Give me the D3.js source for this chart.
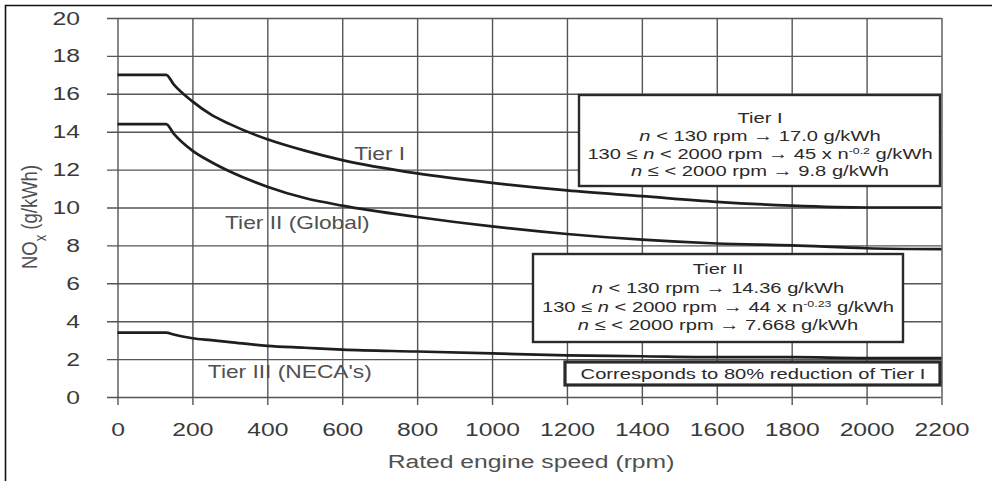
<!DOCTYPE html>
<html>
<head>
<meta charset="utf-8">
<script src="https://cdn.jsdelivr.net/npm/d3@7"></script>
<style>
    body { margin: 0; background: #fff; }
    svg { display: block; font-family: "Liberation Sans", Arial, Helvetica, sans-serif; }
    .grid line { stroke: #555; stroke-width: 1.4; }
    .grid text { fill: #3a3a3a; font-size: 19px; }
    .curve { fill: none; stroke: #1e1e1e; stroke-width: 2.7; }
    .label { fill: #505050; font-size: 17.5px; }
    .box rect { fill: #fff; stroke: #2a2a2a; }
    .box text { fill: #2a2a2a; font-size: 15.5px; }
</style>
</head>
<body>
<div class="chart"></div>
<script>
// values
var rpm = [0, 130, 150, 200, 250, 300, 400, 500, 600, 800, 1000, 1200, 1400, 1600, 1800, 2000, 2200];
var tier1 = [17.0, 17.0, 16.5, 15.6, 14.9, 14.4, 13.6, 13.0, 12.5, 11.8, 11.3, 10.9, 10.6, 10.3, 10.1, 10.0, 10.0];
var tier2 = [14.4, 14.4, 13.9, 13.0, 12.4, 11.9, 11.1, 10.5, 10.1, 9.5, 9.0, 8.6, 8.3, 8.1, 8.0, 7.85, 7.8];
var tier3 = [3.4, 3.4, 3.3, 3.1, 3.0, 2.9, 2.7, 2.6, 2.5, 2.4, 2.3, 2.2, 2.15, 2.1, 2.1, 2.05, 2.05];

var xTicks = [0, 200, 400, 600, 800, 1000, 1200, 1400, 1600, 1800, 2000, 2200];
var yTicks = [0, 2, 4, 6, 8, 10, 12, 14, 16, 18, 20];

var curveLabels = ["Tier I", "Tier II (Global)", "Tier III (NECA's)"];
var curveLabelAt = [[700, 12.8], [480, 9.2], [460, 1.3]];

var STRETCH = 1.3;   // the scan is wider than it is tall

var W = 992, H = 481;
var plot = { left: 117.5, right: 941.5, top: 18, bottom: 397 };

var svg = d3.select(".chart").append("svg")
    .attr("width", W)
    .attr("height", H);

svg.append("rect")
    .attr("width", W)
    .attr("height", H)
    .attr("fill", "#fff");

// frame of the scan (top and left edges only)
svg.append("path")
    .attr("d", "M5.5," + H + "V5.5H" + W)
    .attr("fill", "none")
    .attr("stroke", "#111")
    .attr("stroke-width", 1.6);

var x = d3.scaleLinear()
    .domain([0, 2200])
    .range([plot.left, plot.right]);

var y = d3.scaleLinear()
    .domain([0, 20])
    .range([plot.bottom, plot.top]);

// horizontal grid + y labels
var gy = svg.append("g")
    .attr("class", "grid")
    .attr("transform", "translate(107,0)")
    .call(d3.axisLeft(y)
        .tickValues(yTicks)
        .tickFormat(d3.format("d"))
        .tickSize(-(plot.right - 107))
        .tickPadding(27));
gy.select(".domain").remove();
gy.selectAll("text")
    .attr("x", -27 / STRETCH)
    .attr("transform", "scale(" + STRETCH + ",1)");

// vertical grid + x labels
var gx = svg.append("g")
    .attr("class", "grid")
    .attr("transform", "translate(0,405)")
    .call(d3.axisBottom(x)
        .tickValues(xTicks)
        .tickFormat(d3.format("d"))
        .tickSize(-(405 - plot.top))
        .tickPadding(18));
gx.select(".domain").remove();
gx.selectAll("text")
    .attr("transform", "scale(" + STRETCH + ",1)");

// curves
var line = d3.line()
    .x(function(d) { return x(d[0]); })
    .y(function(d) { return y(d[1]); })
    .curve(d3.curveMonotoneX);

[tier1, tier2, tier3].forEach(function(series, i) {
    svg.append("path")
        .datum(d3.zip(rpm, series))
        .attr("class", "curve")
        .attr("stroke-width", i === 1 ? 3 : 2.7)
        .attr("d", line);
});

svg.selectAll(".label")
    .data(curveLabels)
    .enter().append("text")
    .attr("class", "label")
    .attr("text-anchor", "middle")
    .attr("transform", function(d, i) {
        return "translate(" + x(curveLabelAt[i][0]) + "," + (y(curveLabelAt[i][1]) + 6) + ") scale(" + STRETCH + ",1)";
    })
    .text(function(d) { return d; });

// axis titles
svg.append("text")
    .attr("class", "label")
    .attr("text-anchor", "middle")
    .attr("transform", "translate(531,468) scale(" + STRETCH + ",1)")
    .style("font-size", "19px")
    .text("Rated engine speed (rpm)");

var yTitle = svg.append("text")
    .attr("class", "label")
    .attr("text-anchor", "middle")
    .attr("transform", "translate(37,217) rotate(-90) scale(1,1.2)")
    .style("font-size", "18.5px");
yTitle.append("tspan").text("NO");
yTitle.append("tspan")
    .attr("baseline-shift", "sub")
    .style("font-size", "13px")
    .text("x");
yTitle.append("tspan").text(" (g/kWh)");

// note boxes
function noteBox(x0, y0, x1, y1, width) {
    var g = svg.append("g").attr("class", "box");
    g.append("rect")
        .attr("x", x0)
        .attr("y", y0)
        .attr("width", x1 - x0)
        .attr("height", y1 - y0)
        .attr("stroke-width", width);
    return g;
}

function noteLine(g, cx, baseline, parts) {
    var t = g.append("text")
        .attr("text-anchor", "middle")
        .attr("transform", "translate(" + cx + "," + baseline + ") scale(" + STRETCH + ",1)");
    parts.forEach(function(p) {
        var s = t.append("tspan").text(p.t);
        if (p.i) s.style("font-style", "italic");
        if (p.sup) s.attr("baseline-shift", "super").style("font-size", "9.5px");
    });
}

var box1 = noteBox(579, 95, 940, 186, 2.4);
noteLine(box1, 760, 123, [{ t: "Tier I" }]);
noteLine(box1, 760, 141, [{ t: "n", i: 1 }, { t: " < 130 rpm \u2192 17.0 g/kWh" }]);
noteLine(box1, 760, 159, [{ t: "130 \u2264 " }, { t: "n", i: 1 }, { t: " < 2000 rpm \u2192 45 x n" }, { t: "-0.2", sup: 1 }, { t: " g/kWh" }]);
noteLine(box1, 760, 176, [{ t: "n", i: 1 }, { t: " \u2264 < 2000 rpm \u2192 9.8 g/kWh" }]);

var box2 = noteBox(533, 254, 903, 342, 2.4);
noteLine(box2, 718, 274, [{ t: "Tier II" }]);
noteLine(box2, 718, 293, [{ t: "n", i: 1 }, { t: " < 130 rpm \u2192 14.36 g/kWh" }]);
noteLine(box2, 718, 312, [{ t: "130 \u2264 " }, { t: "n", i: 1 }, { t: " < 2000 rpm \u2192 44 x n" }, { t: "-0.23", sup: 1 }, { t: " g/kWh" }]);
noteLine(box2, 718, 330, [{ t: "n", i: 1 }, { t: " \u2264 < 2000 rpm \u2192 7.668 g/kWh" }]);

var box3 = noteBox(565, 362, 940, 385, 3.2);
noteLine(box3, 753, 379, [{ t: "Corresponds to 80% reduction of Tier I" }]);
</script>
</body>
</html>
